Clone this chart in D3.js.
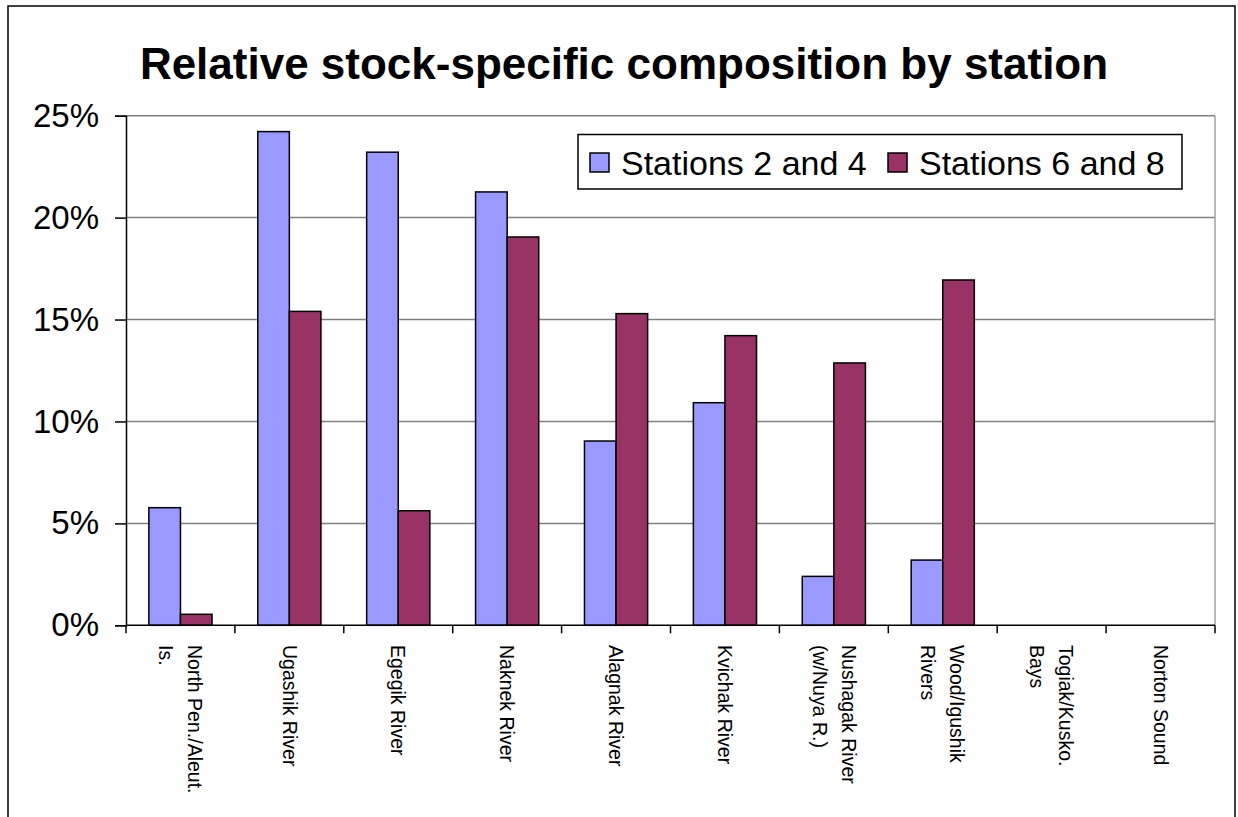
<!DOCTYPE html>
<html>
<head>
<meta charset="utf-8">
<script src="https://cdn.jsdelivr.net/npm/d3@7"></script>
<style>
  html, body { margin: 0; padding: 0; background: #fff; }
  svg { display: block; font-family: "Liberation Sans", Arial, sans-serif; }
</style>
</head>
<body>
<svg id="chart" width="1238" height="817"></svg>
<script>
const title = "Relative stock-specific composition by station";
const categories = [
  "North Pen./Aleut.\nIs.",
  "Ugashik River",
  "Egegik River",
  "Naknek River",
  "Alagnak River",
  "Kvichak River",
  "Nushagak River\n(w/Nuya R.)",
  "Wood/Igushik\nRivers",
  "Togiak/Kusko.\nBays",
  "Norton Sound"
];
const seriesNames = ["Stations 2 and 4", "Stations 6 and 8"];
const stations24 = [0.0577, 0.2422, 0.2321, 0.2126, 0.0904, 0.1092, 0.0240, 0.0320, 0, 0];
const stations68 = [0.0054, 0.1540, 0.0562, 0.1905, 0.1529, 0.1421, 0.1287, 0.1694, 0, 0];
const yTicks = [0, 0.05, 0.10, 0.15, 0.20, 0.25];
const colors = ["#9999FF", "#993366"];

const svg = d3.select("#chart");
const plotL = 126, plotR = 1215, plotT = 115.7, plotB = 625.3;

// outer frame
svg.append("rect").attr("x", 8).attr("y", 6).attr("width", 1227).attr("height", 830)
  .attr("fill", "none").attr("stroke", "#000").attr("stroke-width", 1.5);

// title
svg.append("text").attr("x", 624).attr("y", 79).attr("text-anchor", "middle")
  .attr("font-size", 44).attr("font-weight", "bold").attr("fill", "#000").text(title);

const y = d3.scaleLinear().domain([0, 0.25]).range([plotB, plotT]);
const xOuter = d3.scaleBand().domain(categories).range([plotL, plotR]).padding(0);
const x0 = d3.scaleBand().domain(categories).range([plotL, plotR]).paddingInner(0.42).paddingOuter(0.21);
const x1 = d3.scaleBand().domain(seriesNames).range([0, x0.bandwidth()]);

// gridlines
svg.append("g").selectAll("line").data(yTicks.filter(d => d > 0)).join("line")
  .attr("x1", plotL).attr("x2", plotR).attr("y1", d => y(d)).attr("y2", d => y(d))
  .attr("stroke", "#808080").attr("stroke-width", 1.5);
// right plot border
svg.append("line").attr("x1", plotR).attr("x2", plotR).attr("y1", plotT).attr("y2", plotB)
  .attr("stroke", "#a0a0a0").attr("stroke-width", 1.5);

// bars
const data = categories.map((c, i) => ({ c, vals: [stations24[i], stations68[i]] }));
const groups = svg.append("g").selectAll("g").data(data).join("g")
  .attr("transform", d => `translate(${x0(d.c)},0)`);
groups.selectAll("rect").data(d => d.vals.map((v, j) => ({ v, s: seriesNames[j], j })).filter(e => e.v > 0))
  .join("rect")
  .attr("x", e => x1(e.s)).attr("width", x1.bandwidth())
  .attr("y", e => y(e.v)).attr("height", e => y(0) - y(e.v))
  .attr("fill", e => colors[e.j]).attr("stroke", "#000").attr("stroke-width", 1.5);

// y axis
const yAxis = svg.append("g").attr("transform", `translate(${plotL},0)`)
  .call(d3.axisLeft(y).tickValues(yTicks).tickFormat(d3.format(".0%")).tickSize(11).tickPadding(16));
yAxis.select(".domain").attr("stroke", "#000").attr("stroke-width", 1.5);
yAxis.selectAll(".tick line").attr("stroke", "#000").attr("stroke-width", 1.5);
yAxis.selectAll(".tick text").attr("font-size", 33).attr("font-family", "'Liberation Sans', Arial, sans-serif").attr("fill", "#000");

// x axis line and ticks
svg.append("line").attr("x1", plotL).attr("x2", plotR).attr("y1", plotB).attr("y2", plotB)
  .attr("stroke", "#000").attr("stroke-width", 1.5);
const tickXs = categories.map(c => xOuter(c)).concat([xOuter(categories[categories.length - 1]) + xOuter.bandwidth()]);
svg.append("g").selectAll("line").data(tickXs).join("line")
  .attr("x1", d => d).attr("x2", d => d).attr("y1", plotB).attr("y2", plotB + 8)
  .attr("stroke", "#000").attr("stroke-width", 1.5);

// x labels (rotated, reading top-to-bottom)
const lineH = 29;
const labels = svg.append("g").selectAll("text").data(categories).join("text")
  .attr("transform", c => `translate(${xOuter(c) + xOuter.bandwidth() / 2},645) rotate(90)`)
  .attr("font-size", 19.5).attr("fill", "#000").attr("text-anchor", "start");
labels.each(function (c) {
  const lines = c.split("\n");
  const n = lines.length;
  d3.select(this).selectAll("tspan").data(lines).join("tspan")
    .attr("x", 0)
    .attr("y", (l, i) => (i - (n - 1) / 2) * lineH)
    .attr("dy", "0.35em")
    .text(l => l);
});

// legend
const lg = svg.append("g");
lg.append("rect").attr("x", 578).attr("y", 134.5).attr("width", 604).attr("height", 54.5)
  .attr("fill", "#fff").attr("stroke", "#000").attr("stroke-width", 1.5);
const legendX = [590, 888];
seriesNames.forEach((s, i) => {
  lg.append("rect").attr("x", legendX[i]).attr("y", 153).attr("width", 19).attr("height", 19)
    .attr("fill", colors[i]).attr("stroke", "#000").attr("stroke-width", 1.5);
  lg.append("text").attr("x", legendX[i] + 31).attr("y", 175).attr("font-size", 34)
    .attr("fill", "#000").text(s);
});
</script>
</body>
</html>
